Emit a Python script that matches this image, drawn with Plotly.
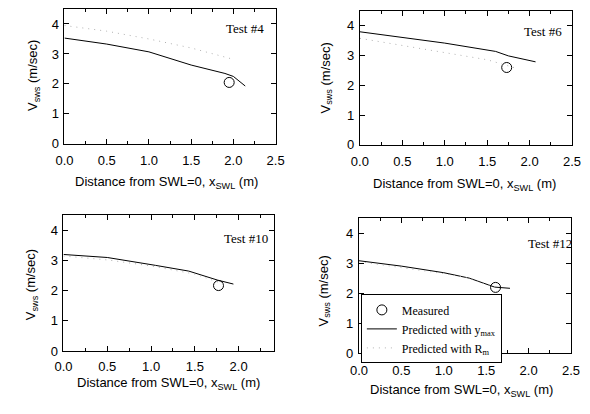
import plotly.graph_objects as go

# ---------------- data ----------------
tests = ["Test #4", "Test #6", "Test #10", "Test #12"]

x_ymax_4 = [0.0, 0.5, 1.0, 1.5, 1.9, 2.0, 2.14]
v_ymax_4 = [3.53, 3.33, 3.07, 2.63, 2.35, 2.25, 1.93]
x_rm_4 = [0.0, 0.5, 1.0, 1.5, 2.0]
v_rm_4 = [3.95, 3.76, 3.5, 3.2, 2.82]
x_meas_4 = [1.95]
v_meas_4 = [2.05]

x_ymax_6 = [0.0, 0.5, 1.0, 1.6, 1.75, 2.07]
v_ymax_6 = [3.8, 3.61, 3.42, 3.14, 2.99, 2.79]
x_rm_6 = [0.0, 0.5, 1.0, 1.5, 1.85]
v_rm_6 = [3.58, 3.35, 3.1, 2.86, 2.57]
x_meas_6 = [1.73]
v_meas_6 = [2.6]

x_ymax_10 = [0.0, 0.5, 1.05, 1.43, 1.76, 1.94]
v_ymax_10 = [3.2, 3.1, 2.84, 2.65, 2.35, 2.22]
x_rm_10 = [0.0, 0.5, 1.0, 1.5, 1.85]
v_rm_10 = [3.15, 3.02, 2.82, 2.55, 2.2]
x_meas_10 = [1.77]
v_meas_10 = [2.17]

x_ymax_12 = [0.0, 0.5, 1.0, 1.3, 1.6, 1.78]
v_ymax_12 = [3.08, 2.9, 2.68, 2.5, 2.2, 2.16]
x_rm_12 = [0.0, 0.5, 1.0, 1.3, 1.6]
v_rm_12 = [3.05, 2.86, 2.65, 2.5, 2.2]
x_meas_12 = [1.61]
v_meas_12 = [2.19]

x_ranges = [[0, 2.5], [0, 2.5], [0, 2.4], [0, 2.5]]
x_tickvals = [0.0, 0.5, 1.0, 1.5, 2.0, 2.5]
y_tickvals = [0, 1, 2, 3, 4]

panels = [
    (x_ymax_4, v_ymax_4, x_rm_4, v_rm_4, x_meas_4, v_meas_4),
    (x_ymax_6, v_ymax_6, x_rm_6, v_rm_6, x_meas_6, v_meas_6),
    (x_ymax_10, v_ymax_10, x_rm_10, v_rm_10, x_meas_10, v_meas_10),
    (x_ymax_12, v_ymax_12, x_rm_12, v_rm_12, x_meas_12, v_meas_12),
]

# ---------------- layout geometry (page pixels) ----------------
PAGE_W, PAGE_H = 590, 414
OFF = 8  # default body margin of the page
W, H = PAGE_W - 2 * OFF, PAGE_H - 2 * OFF


def px(x):
    return min(1.0, max(0.0, (x - OFF) / W))


def py(y):
    return min(1.0, max(0.0, 1 - (y - OFF) / H))


# (left, right, top, bottom) of each plot frame
frames = [(57, 275, 8, 146), (362, 581, 10, 147), (56, 273, 219, 358), (361, 580, 222, 360)]
xtitle_pos = [(162, 186), (470, 188), (164, 391), (467, 398)]
ytitle_pos = [(25, 76), (327, 78), (23, 290), (325, 297)]
test_pos = [(243, 28), (551, 31), (244, 243), (558, 248)]
x_label_standoff = [5, 5, 3, 5]

SANS = "Liberation Sans, Arial, sans-serif"
SERIF = "Liberation Serif, Times New Roman, serif"

fig = go.Figure()
layout = dict(
    width=W, height=H, margin=dict(l=0, r=0, t=0, b=0),
    paper_bgcolor="white", plot_bgcolor="white",
    font=dict(family=SANS, size=13, color="black"),
    showlegend=True,
    legend=dict(
        x=px(363), y=py(300), xanchor="left", yanchor="top",
        bgcolor="white", bordercolor="black", borderwidth=1,
        font=dict(family=SERIF, size=12, color="black"),
        tracegroupgap=0, itemwidth=30,
    ),
)
annotations = []

for i, (xs, vs, xr, vr, xm, vm) in enumerate(panels):
    n = "" if i == 0 else str(i + 1)
    xa, ya = "x" + n, "y" + n
    l, r, t, b = frames[i]
    show = i == 3
    fig.add_trace(go.Scatter(
        x=xm, y=vm, mode="markers", xaxis=xa, yaxis=ya,
        marker=dict(symbol="circle-open", size=10, color="black", line=dict(width=1)),
        name="Measured", showlegend=show, legendrank=1))
    fig.add_trace(go.Scatter(
        x=xs, y=vs, mode="lines", xaxis=xa, yaxis=ya,
        line=dict(color="black", width=1),
        name="Predicted with y<sub>max</sub>", showlegend=show, legendrank=2))
    fig.add_trace(go.Scatter(
        x=xr, y=vr, mode="lines", xaxis=xa, yaxis=ya,
        line=dict(color="#b0b0b0", width=1, dash="1px,5px"),
        name="Predicted with R<sub>m</sub>", showlegend=show, legendrank=3))

    common = dict(showline=True, linecolor="black", linewidth=1, mirror="allticks",
                  ticks="inside", ticklen=5, tickcolor="black", showgrid=False,
                  zeroline=False, tickfont=dict(family=SANS, size=13, color="black"))
    layout["xaxis" + n] = dict(
        domain=[px(l), px(r)], anchor=ya, range=x_ranges[i],
        tickvals=[v for v in x_tickvals if v <= x_ranges[i][1]],
        ticktext=["%.1f" % v for v in x_tickvals if v <= x_ranges[i][1]],
        minor=dict(dtick=0.25, ticks="inside", ticklen=3, tickcolor="black"),
        ticklabelstandoff=x_label_standoff[i],
        **common)
    layout["yaxis" + n] = dict(
        domain=[py(b), py(t)], anchor=xa, range=[0, 4.5],
        tickvals=y_tickvals, ticklabelstandoff=2,
        **common)

    annotations.append(dict(
        x=px(xtitle_pos[i][0]), y=py(xtitle_pos[i][1]), xref="paper", yref="paper",
        text="Distance from SWL=0, x<sub>SWL</sub> (m)", showarrow=False,
        xanchor="center", yanchor="middle", font=dict(family=SANS, size=13)))
    annotations.append(dict(
        x=px(ytitle_pos[i][0]), y=py(ytitle_pos[i][1]), xref="paper", yref="paper",
        text="V<sub>sws</sub> (m/sec)", showarrow=False, textangle=-90,
        xanchor="center", yanchor="middle", font=dict(family=SANS, size=13)))
    annotations.append(dict(
        x=px(test_pos[i][0]), y=py(test_pos[i][1]), xref="paper", yref="paper",
        text=tests[i], showarrow=False,
        xanchor="center", yanchor="middle", font=dict(family=SERIF, size=13)))

layout["annotations"] = annotations
fig.update_layout(**layout)
fig.write_html("out.html")
